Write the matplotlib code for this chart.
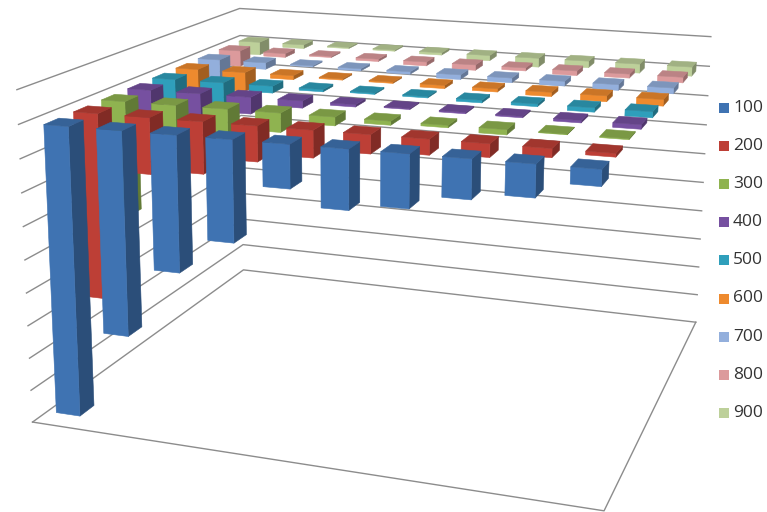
import numpy as np
import matplotlib
matplotlib.use('Agg')
import matplotlib.pyplot as plt
from matplotlib.collections import PolyCollection
from matplotlib.colors import to_rgb

plt.rcParams['font.family'] = ['Open Sans', 'DejaVu Sans']

series_names = ['100', '200', '300', '400', '500', '600', '700', '800', '900']
series_colors = ['#3f73b2', '#bd3f36', '#8fb350', '#7650a0', '#2f9fbb',
                 '#ee8a2e', '#93afdc', '#dc9a9c', '#bdd09a']

s100 = [-880, -610, -400, -295, -125, -170, -150, -110, -90, -45]
s200 = [-570, -170, -155, -105, -80, -55, -45, -38, -25, -10]
s300 = [-360, -90, -80, -58, -26, -12, -7, -15, -2, -3]
s400 = [-100, -85, -52, -22, -7, -3, -4, -4, -7, -13]
s500 = [-78, -76, -22, -7, -4, -4, -8, -8, -13, -18]
s600 = [-72, -62, -13, -4, -4, -10, -10, -13, -18, -20]
s700 = [-62, -22, -4, -7, -8, -15, -15, -15, -18, -18]
s800 = [-54, -13, -4, -8, -13, -18, -10, -15, -13, -18]
s900 = [-45, -13, -4, -4, -8, -18, -30, -22, -30, -30]
series = [s100, s200, s300, s400, s500, s600, s700, s800, s900]

z_levels = np.arange(-900, 101, 100)
n_cat = len(s100)
n_ser = len(series)
bar_width = 0.47
bar_depth = 0.5

# box corners (category, series, value) and where they land on the canvas
anchors_3d = [(0, 0, -900), (n_cat, 0, -900), (n_cat, n_ser, -900), (0, n_ser, -900),
              (0, n_ser, 100), (n_cat, n_ser, 100), (0, 0, 100),
              (0, 0, 0), (n_cat, n_ser, 0), (0, n_ser, 0)]
anchors_2d = [(33, 422), (604, 511), (696, 322), (243, 270),
              (240, 8), (711, 37), (17, 90),
              (18, 124), (709, 66), (240, 36)]

# the columns sit on a slightly different plane from the gridlines
bar_anchors_3d = [(0, 0, -900), (n_cat, 0, -900), (n_cat, n_ser, -900), (0, n_ser, -900),
                  (0, 0, 0), (n_cat, 0, 0), (n_cat, n_ser, 0), (0, n_ser, 0)]
bar_anchors_2d = [(36, 422), (606, 508), (698, 318), (245, 270),
                  (22, 123), (614, 180), (713, 58), (243, 36)]


def fit_camera(world, image):
    rows = []
    for (x, y, z), (u, v) in zip(world, image):
        z = z / 100.0
        rows.append([x, y, z, 1, 0, 0, 0, 0, -u*x, -u*y, -u*z, -u])
        rows.append([0, 0, 0, 0, x, y, z, 1, -v*x, -v*y, -v*z, -v])
    _, _, vt = np.linalg.svd(np.array(rows, dtype=float))
    return vt[-1].reshape(3, 4)


grid_camera = fit_camera(anchors_3d, anchors_2d)
bar_camera = fit_camera(bar_anchors_3d, bar_anchors_2d)


def project(camera, x, y, z):
    p = camera @ np.array([x, y, z / 100.0, 1.0])
    return p[0] / p[2], p[1] / p[2]


def shade(color, k):
    return tuple(c * k for c in to_rgb(color))


def main():
    fig = plt.figure(figsize=(7.67, 5.12), dpi=100)
    ax = fig.add_axes([0, 0, 1, 1])
    ax.set_xlim(0, 767)
    ax.set_ylim(512, 0)
    ax.axis('off')

    # Walls and floor
    grid = dict(color='#8c8c8c', lw=1.0, zorder=1)
    for z in z_levels:
        pts = [project(grid_camera, 0, 0, z), project(grid_camera, 0, n_ser, z),
               project(grid_camera, n_cat, n_ser, z)]
        ax.plot(*zip(*pts), **grid)
    floor = [project(grid_camera, 0, 0, -900), project(grid_camera, n_cat, 0, -900),
             project(grid_camera, n_cat, n_ser, -900)]
    ax.plot(*zip(*floor), **grid)

    # Bars, back row first and left to right so nearer ones cover farther ones
    polys, colors = [], []
    for j in range(n_ser - 1, -1, -1):
        for i in range(n_cat):
            v = series[j][i]
            x0, x1 = i + 0.5 - bar_width / 2, i + 0.5 + bar_width / 2
            y0, y1 = j + 0.5 - bar_depth / 2, j + 0.5 + bar_depth / 2
            c = series_colors[j]
            polys.append([project(bar_camera, x1, y0, 0), project(bar_camera, x1, y1, 0),
                          project(bar_camera, x1, y1, v), project(bar_camera, x1, y0, v)])
            colors.append(shade(c, 0.68))
            polys.append([project(bar_camera, x0, y0, 0), project(bar_camera, x1, y0, 0),
                          project(bar_camera, x1, y0, v), project(bar_camera, x0, y0, v)])
            colors.append(shade(c, 1.0))
            polys.append([project(bar_camera, x0, y0, 0), project(bar_camera, x1, y0, 0),
                          project(bar_camera, x1, y1, 0), project(bar_camera, x0, y1, 0)])
            colors.append(shade(c, 0.85))
    ax.add_collection(PolyCollection(polys, facecolors=colors, edgecolors=colors,
                                     linewidths=0.4, zorder=2))

    # Legend
    for k, (name, c) in enumerate(zip(series_names, series_colors)):
        y = 108 + 38.1 * k
        ax.add_patch(plt.Rectangle((719, y - 5), 10, 10, color=c, lw=0, zorder=3))
        ax.text(733, y, name, fontsize=12.5, color='#333333', va='center', ha='left')

    fig.savefig('out.png', dpi=100)


main()
